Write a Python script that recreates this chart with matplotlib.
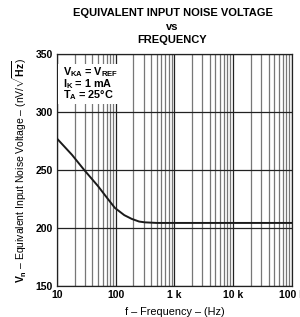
import numpy as np
import matplotlib
matplotlib.use("Agg")
import matplotlib.pyplot as plt
from matplotlib.patches import Rectangle
from matplotlib.ticker import FixedLocator, LogLocator, NullFormatter

plt.rcParams['font.family'] = ['Liberation Sans', 'DejaVu Sans']
plt.rcParams['font.weight'] = 'bold'
plt.rcParams['mathtext.fontset'] = 'custom'
plt.rcParams['mathtext.rm'] = 'Liberation Sans:bold'
plt.rcParams['mathtext.it'] = 'Liberation Sans:bold'
plt.rcParams['mathtext.bf'] = 'Liberation Sans:bold'
plt.rcParams['mathtext.sf'] = 'Liberation Sans:bold'

# data
freq = [10, 18, 29, 50, 75, 97, 140, 187, 250, 315, 500, 1000, 100000]
noise = [277, 263, 250, 236, 224.4, 217.2, 211, 207.8, 205.5, 204.8, 204.3, 204.3, 204.3]
yticks = [150, 200, 250, 300, 350]
xticks = [10, 100, 1000, 10000, 100000]
xlabels = ['10', '100', '1 k', '10 k', '100 k']

fig = plt.figure(figsize=(3.0, 3.17), dpi=100)
ax = fig.add_axes([0.19, 0.098, 0.783, 0.732])

ax.set_xscale('log')
ax.set_xlim(10, 100000)
ax.set_ylim(150, 350)

ax.xaxis.set_major_locator(FixedLocator(xticks))
ax.set_xticklabels(xlabels)
ax.xaxis.set_minor_locator(LogLocator(base=10, subs=np.arange(2, 10)))
ax.xaxis.set_minor_formatter(NullFormatter())
ax.set_yticks(yticks)

ax.grid(True, which='major', axis='both', color='#222222', lw=0.9)
ax.grid(True, which='minor', axis='x', color='#777777', lw=0.9)
ax.tick_params(which='both', length=0, labelsize=7.5, pad=3)
for s in ax.spines.values():
    s.set_color('#222222')
    s.set_linewidth(0.9)

ax.plot(freq, noise, color='#1a1a1a', lw=1.4, zorder=3)

# white patch behind the test conditions
ax.add_patch(Rectangle((0.005, 0.785), 0.265, 0.172, transform=ax.transAxes,
                       facecolor='white', edgecolor='none', zorder=3.5))
conds = ['$V_{KA}$ = $V_{REF}$', '$I_K$ = 1 mA', '$T_A$ = 25°C']
for i, c in enumerate(conds):
    ax.text(0.025, 0.92 - i * 0.049, c, transform=ax.transAxes,
            ha='left', va='center', fontsize=7.8, zorder=4)

fig.text(0.575, 0.958, 'EQUIVALENT INPUT NOISE VOLTAGE', ha='center', va='center', fontsize=8)
fig.text(0.575, 0.915, 'vs', ha='center', va='center', fontsize=8)
fig.text(0.575, 0.873, 'FREQUENCY', ha='center', va='center', fontsize=8)

ax.set_xlabel('f – Frequency – (Hz)', fontsize=7.8, labelpad=5)
ax.set_ylabel(r'$V_n$ – Equivalent Input Noise Voltage – (nV/$\sqrt{Hz}$)',
              fontsize=7.5, labelpad=5)

fig.savefig('out.png', dpi=100)
